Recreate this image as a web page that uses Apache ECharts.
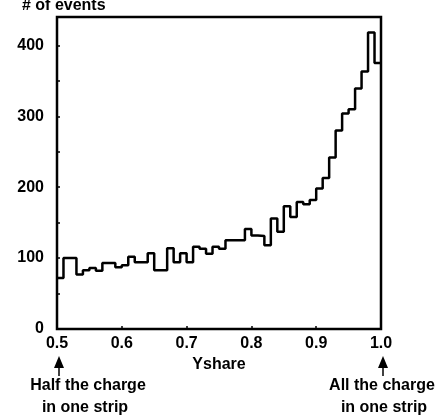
<!DOCTYPE html>
<html>
<head>
<meta charset="utf-8">
<script src="https://cdn.jsdelivr.net/npm/echarts@6/dist/echarts.min.js"></script>
<style>
html,body{margin:0;padding:0;background:#fff;}
#c{width:441px;height:417px;}
</style>
</head>
<body>
<div id="c"></div>
<script>
// Histogram of Yshare: 50 bins from 0.5 to 1.0 (bin width 0.01)
const binStart = 0.5;
const binEnd = 1.0;
const counts = [72, 100, 100, 77, 83, 86, 82, 93, 93, 87,
                90, 102, 94, 94, 107, 83, 83, 114, 94, 107,
                94, 116, 113, 106, 116, 113, 125, 125, 125, 141,
                132, 131, 118, 156, 137, 173, 158, 179, 176, 182,
                198, 213, 242, 280, 304, 310, 339, 363, 418, 375];
const xTicks = [0.5, 0.6, 0.7, 0.8, 0.9, 1.0];
const yTicks = [0, 100, 200, 300, 400];
const yTitle = '# of events';
const xTitle = 'Yshare';
const leftNote = ['Half the charge', 'in one strip'];
const rightNote = ['All the charge', 'in one strip'];

const w = (binEnd - binStart) / counts.length;
const stepData = counts.map((v, i) => [binStart + i * w, v]);
stepData.push([binEnd, counts[counts.length - 1]]);

const font = 'Liberation Sans, Arial, Helvetica, sans-serif';
const ts = {fontFamily: font, fontSize: 16, fontWeight: 'bold', color: '#000'};
const chart = echarts.init(document.getElementById('c'));
chart.setOption({
  animation: false,
  backgroundColor: '#fff',
  grid: {left: 57, right: 60, top: 17, bottom: 88, show: true, borderColor: '#000', borderWidth: 2.5, backgroundColor: 'transparent'},
  xAxis: {
    type: 'value', min: binStart, max: binEnd, interval: 0.1,
    name: xTitle, nameLocation: 'middle', nameGap: 28,
    nameTextStyle: ts,
    axisLine: {show: false},
    axisTick: {show: true, inside: true, length: 3, lineStyle: {color: '#000', width: 1.5}},
    axisLabel: Object.assign({margin: 7, customValues: xTicks, formatter: v => v.toFixed(1)}, ts),
    splitLine: {show: false}
  },
  yAxis: {
    type: 'value', min: 0, max: 440, interval: 100,
    axisLine: {show: false},
    axisTick: {show: true, inside: true, length: 3, lineStyle: {color: '#000', width: 1.5}},
    minorTick: {show: true, splitNumber: 2, length: 3, lineStyle: {color: '#000', width: 1.5}},
    axisLabel: Object.assign({margin: 13, customValues: yTicks}, ts),
    splitLine: {show: false}
  },
  series: [{
    type: 'line', step: 'end', data: stepData, symbol: 'none',
    lineStyle: {color: '#000', width: 2.5}
  }]
});

function placeNotes() {
  const xl = chart.convertToPixel({xAxisIndex: 0}, binStart);
  const xr = chart.convertToPixel({xAxisIndex: 0}, binEnd);
  const arrow = (x) => ([
    {type: 'polygon', shape: {points: [[x, 356], [x - 5, 368], [x + 5, 368]]}, style: {fill: '#000'}},
    {type: 'line', shape: {x1: x, y1: 366, x2: x, y2: 376}, style: {stroke: '#000', lineWidth: 1.5}}
  ]);
  const txt = (x, y, s, align) => ({type: 'text', x: x, y: y,
    style: {text: s, fontFamily: font, fontSize: 16, fontWeight: 'bold', fill: '#000', align: align, verticalAlign: 'middle'}});
  chart.setOption({graphic: [
    txt(22, 6, yTitle, 'left'),
    ...arrow(xl + 2), ...arrow(xr + 2),
    txt(xl + 31, 386, leftNote[0], 'center'),
    txt(xl + 28, 408, leftNote[1], 'center'),
    txt(xr + 1, 386, rightNote[0], 'center'),
    txt(xr + 3, 408, rightNote[1], 'center')
  ]});
}
placeNotes();
</script>
</body>
</html>
